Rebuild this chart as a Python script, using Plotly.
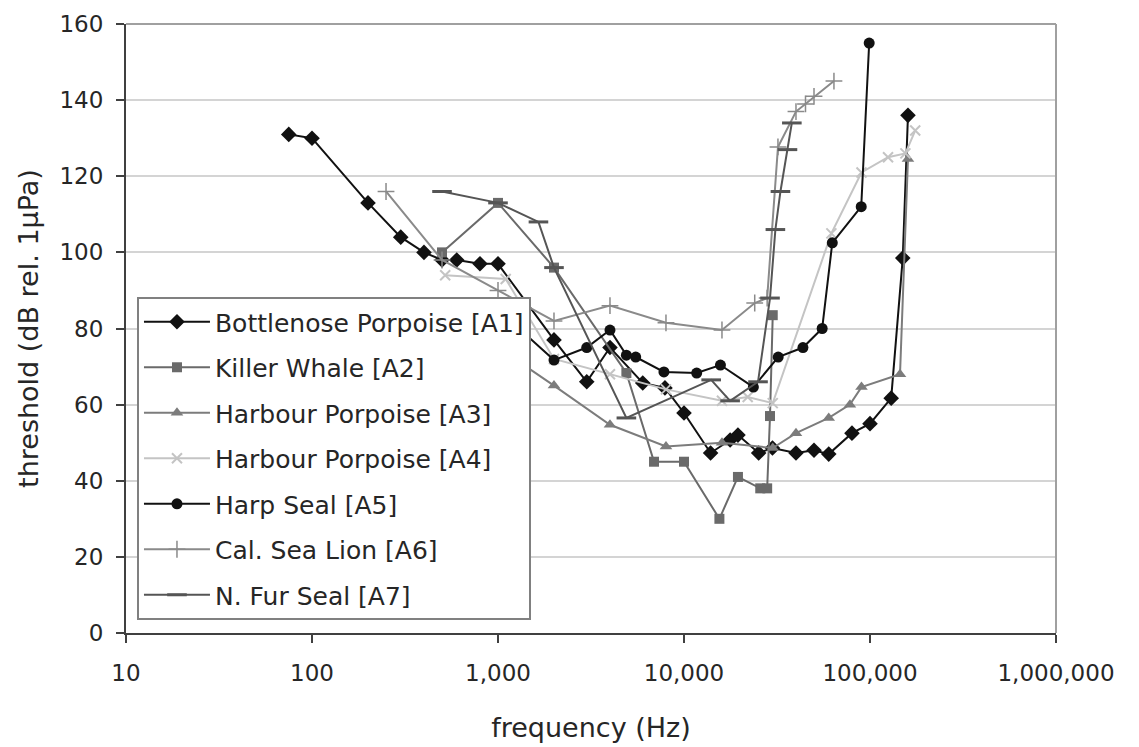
import plotly.graph_objects as go

# ---------------- data (frequency in Hz, threshold in dB re 1 µPa) ----------------
a1_f = [75, 100, 200, 300, 400, 500, 600, 800, 1000, 2000, 3000, 4000, 6000, 7900, 10000,
        13900, 17700, 19500, 25200, 29900, 40000, 50000, 60000, 80000, 100000, 130000,
        150000, 160000]
a1_db = [131, 130, 113, 104, 100, 98, 98, 97, 97, 77, 66, 75, 65.7, 64.4, 57.8,
         47.3, 50.7, 52, 47.3, 48.6, 47.3, 48, 47, 52.5, 55, 61.7, 98.5, 136]

a2_f = [500, 1000, 2000, 4900, 6900, 10000, 15500, 19500, 25700, 28000, 29000, 30000]
a2_db = [100, 113, 96, 68.3, 45, 45, 30, 41, 38, 38, 57, 83.5]

a3_f = [1000, 2000, 4000, 8000, 16000, 30000, 40000, 60000, 78000, 90000, 145000, 160000]
a3_db = [75, 65, 54.7, 49, 50, 48.6, 52.5, 56.5, 60, 64.6, 68, 124.5]

a4_f = [520, 1100, 2000, 4000, 8000, 16000, 22000, 30000, 62000, 90000, 125000, 155000, 175000]
a4_db = [94, 93, 72, 68, 64, 61, 62, 60.4, 105, 121, 125, 126, 132]

a5_f = [1000, 2000, 3000, 4000, 4900, 5500, 7800, 11700, 15700, 23600, 32100, 43600,
        55300, 62700, 89700, 99000]
a5_db = [85, 71.7, 75, 79.6, 73, 72.5, 68.6, 68.3, 70.4, 64.6, 72.5, 75,
         80, 102.5, 112, 155]

a6_f = [250, 500, 1000, 2000, 4000, 8000, 16000, 24000, 28000, 32000, 40000, 45000,
        50000, 64000]
a6_db = [116, 98, 90, 82, 86, 81.5, 79.6, 86.7, 88, 127.7, 137, 139, 141, 145]

a7_f = [500, 1000, 1650, 2000, 4900, 14000, 17700, 25000, 29000, 31000, 33000, 36000, 38000]
a7_db = [116, 113, 108, 96, 56.5, 66.5, 61, 66, 88, 106, 116, 127, 134]

names = ["Bottlenose Porpoise [A1]", "Killer Whale [A2]", "Harbour Porpoise [A3]",
         "Harbour Porpoise [A4]", "Harp Seal [A5]", "Cal. Sea Lion [A6]",
         "N. Fur Seal [A7]"]

x_tickvals = [10, 100, 1000, 10000, 100000, 1000000]
x_ticktext = ["10", "100", "1,000", "10,000", "100,000", "1,000,000"]
y_tickvals = [0, 20, 40, 60, 80, 100, 120, 140, 160]

# ---------------- styles ----------------
styles = [
    dict(color="#111111", symbol="diamond", size=12, mlw=0),
    dict(color="#6a6a6a", symbol="square", size=10, mlw=0),
    dict(color="#7c7c7c", symbol="triangle-up", size=11, mlw=0),
    dict(color="#c4c4c4", symbol="x-thin", size=10, mlw=2),
    dict(color="#111111", symbol="circle", size=11, mlw=0),
    dict(color="#8a8a8a", symbol="cross-thin", size=12, mlw=1.5),
    dict(color="#555555", symbol="line-ew", size=14, mlw=3),
]

series = [(a1_f, a1_db), (a2_f, a2_db), (a3_f, a3_db), (a4_f, a4_db),
          (a5_f, a5_db), (a6_f, a6_db), (a7_f, a7_db)]

fig = go.Figure()
for i, ((fx, fy), nm, st) in enumerate(zip(series, names, styles)):
    fig.add_trace(go.Scatter(
        x=fx, y=fy, name=nm, mode="lines+markers",
        legendgroup=f"g{i}",
        line=dict(color=st["color"], width=2),
        marker=dict(symbol=st["symbol"], size=st["size"], color=st["color"],
                    line=dict(color=st["color"], width=st["mlw"])),
    ))

font_family = "DejaVu Sans, Verdana, sans-serif"
txt = "#262626"

fig.update_layout(
    width=1139, height=747,
    margin=dict(l=126, r=83, t=24, b=114),
    paper_bgcolor="white", plot_bgcolor="white",
    font=dict(family=font_family, color=txt),
    showlegend=True,
    legend=dict(
        x=0.0118, y=0.5517, xanchor="left", yanchor="top",
        bgcolor="white", bordercolor="#808080", borderwidth=2,
        font=dict(size=25, family=font_family, color=txt),
        traceorder="grouped", tracegroupgap=10, itemwidth=66,
    ),
    xaxis=dict(
        type="log", range=[1, 6], automargin=False,
        tickvals=x_tickvals, ticktext=x_ticktext,
        tickfont=dict(size=23, color=txt),
        showgrid=False, zeroline=False,
        showline=True, linecolor="#404040", linewidth=2,
        ticks="outside", ticklen=8, tickcolor="#404040", tickwidth=1.5,
        ticklabelstandoff=10,
        title=dict(text="frequency (Hz)", font=dict(size=27, color=txt), standoff=34),
    ),
    yaxis=dict(
        range=[0, 160], tickvals=y_tickvals, automargin=False,
        tickfont=dict(size=23, color=txt),
        showgrid=True, gridcolor="#d4d4d4", gridwidth=2, zeroline=False,
        showline=True, linecolor="#404040", linewidth=2,
        ticks="outside", ticklen=8, tickcolor="#404040", tickwidth=1.5,
        ticklabelstandoff=8,
        title=dict(text="threshold (dB rel. 1µPa)", font=dict(size=27, color=txt), standoff=13),
    ),
)

# light frame on top and right
fig.add_shape(type="line", xref="paper", yref="paper", x0=0, x1=1, y0=1, y1=1,
              line=dict(color="#a0a0a0", width=2))
fig.add_shape(type="line", xref="paper", yref="paper", x0=1, x1=1, y0=0, y1=1,
              line=dict(color="#a0a0a0", width=2))

fig.write_html("out.html")
